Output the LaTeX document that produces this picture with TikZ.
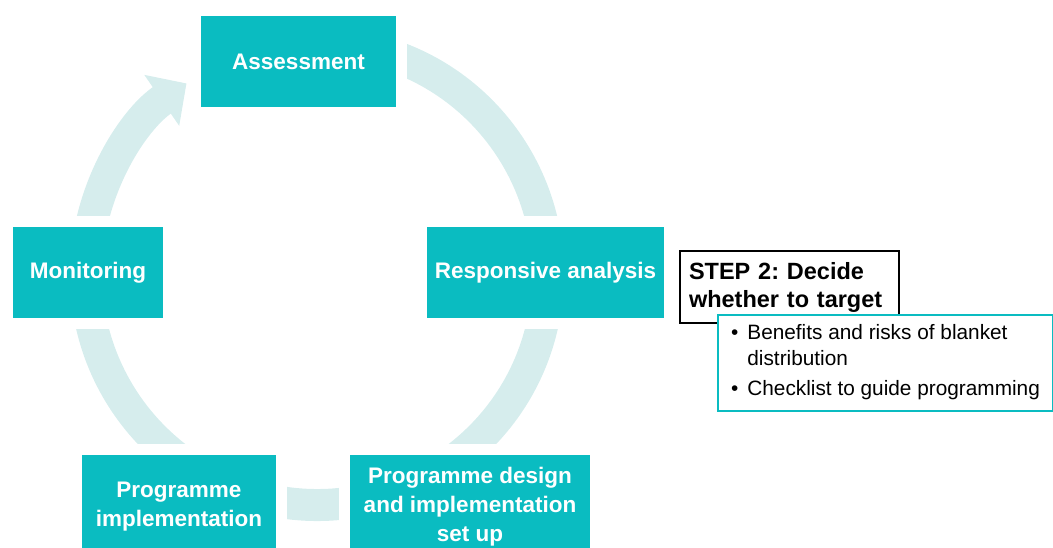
\documentclass[tikz,border=0pt]{standalone}
\usepackage{fontspec}
\setmainfont{Liberation Sans}
\usetikzlibrary{arrows.meta}
\definecolor{boxteal}{RGB}{10,188,193}
\definecolor{ringteal}{RGB}{214,237,237}
\frenchspacing
\begin{document}
\begin{tikzpicture}[x=1pt,y=-1pt, stage/.style={fill=boxteal,text=white,font=\bfseries\fontsize{22.5}{29}\selectfont,align=center,inner sep=0pt,preaction={draw=white,line width=22pt}}, cycle/.style={draw=ringteal,line width=32pt,-{Triangle[width=60pt,length=30pt]}}]
\useasboundingbox (0,0) rectangle (1053,548);
\coordinate (c) at (317,274);
\draw [cycle] (c) ++(-80:231) arc[start angle=-80,end angle=235.6,radius=231];
\node [stage,minimum width=195pt,minimum height=91pt] (assess) at (298.5,61.5) {Assessment};
\node [stage,minimum width=150pt,minimum height=91pt] (monitor) at (88,272.5) {Monitoring};
\node [stage,minimum width=237pt,minimum height=91pt] (analysis) at (545.5,272.5) {Responsive analysis};
\node [stage,minimum width=194pt,minimum height=103pt] (impl) at (179,506.5) {Programme\\implementation};
\node [stage,minimum width=240pt,minimum height=104pt] (design) at (470,507) {Programme design\\and implementation\\set up};
\node [draw,line width=2pt,fill=white,font=\bfseries\fontsize{23.5}{28}\selectfont,align=left,anchor=north west,text width=201pt,inner xsep=9pt,minimum height=72pt] (step) at (679,250) {STEP 2: Decide\\whether to target};
\node [draw=boxteal,fill=white,line width=2pt,anchor=north west,minimum width=335pt,minimum height=96pt,font=\fontsize{20.8}{25}\selectfont] (points) at (717,314) {\begin{tabular}{@{}l@{\hspace{9pt}}l@{}}\textbullet & Benefits and risks of blanket\\ & distribution\\[6pt] \textbullet & Checklist to guide programming\end{tabular}};
\end{tikzpicture}
\end{document}
